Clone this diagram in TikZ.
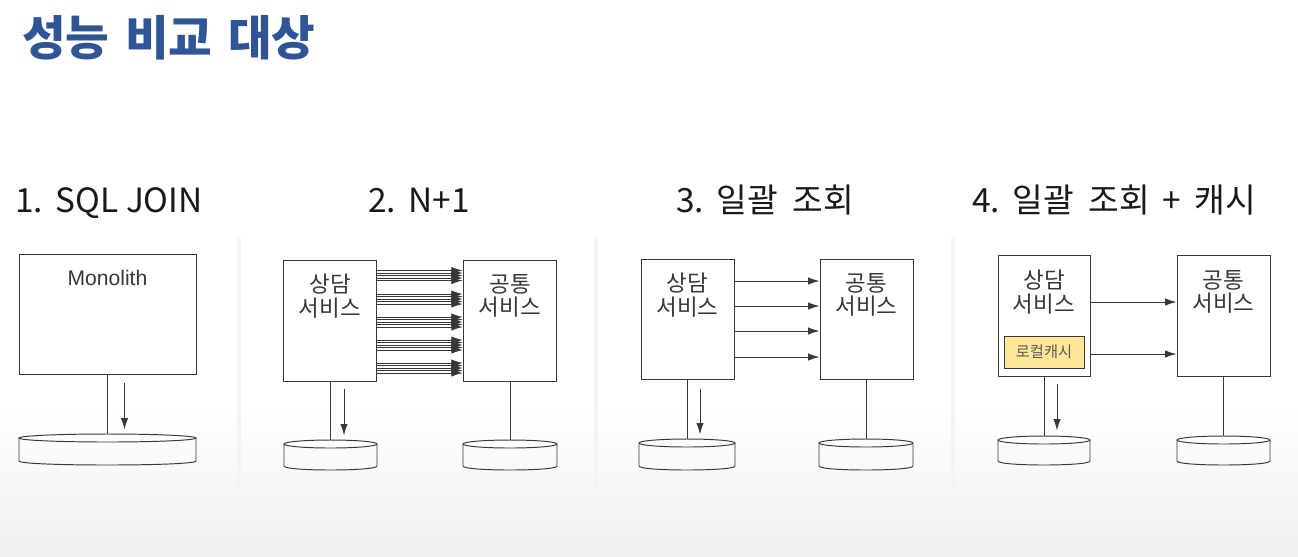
\documentclass[tikz,border=0pt]{standalone}
\usepackage{fontspec}
\setmainfont{Noto Sans CJK KR}
\newfontfamily\arialfont{Liberation Sans}
\usetikzlibrary{arrows.meta}
\usetikzlibrary{positioning}

\definecolor{titleblue}{HTML}{2F5597}
\definecolor{inkgray}{HTML}{383838}
\definecolor{cachefill}{HTML}{FFE699}

% disk: left, right, top, bottom (pixel units)
\newcommand{\dbdisk}[4]{%
  \draw[wire] (#1,#3+4) -- (#1,#4-4) .. controls (#1,#4+1.33) and (#2,#4+1.33) .. (#2,#4-4) -- (#2,#3+4);
  \draw[wire] ({(#1+#2)/2},#3+4) ellipse [x radius={(#2-#1)/2}, y radius=4];
}

\begin{document}
\begin{tikzpicture}[x=0.02cm, y=-0.02cm,
    wire/.style={draw=inkgray, line width=0.55pt},
    arr/.style={wire, -{Latex[length=6.5pt,width=4.2pt]}},
    box/.style={wire, minimum width=1.87cm, minimum height=2.42cm, inner sep=0pt},
    boxtext/.style={align=center, text=inkgray, font=\fontsize{12.8}{13.2}\selectfont},
    heading/.style={anchor=base west, inner sep=0pt, text=black!90, font=\fontsize{19}{22}\selectfont},
    sep/.style={draw=gray!9, line width=0.08cm}]
      \useasboundingbox (0,0) rectangle (1298,556);
      \fill[white] (0,0) rectangle (1298,556);
      \shade[top color=white, bottom color=gray!12] (0,405) rectangle (1298,556);

      \node [anchor=base west, inner sep=0pt, text=titleblue, font=\fontsize{27}{32}\selectfont\bfseries] (title) at (22,55) {성능\hspace{0.1em} 비교\hspace{0.1em} 대상};

      \node [heading] (h1) at (15,212) {1.\hspace{0.08em} SQL JOIN};
      \node [heading] (h2) at (368,212) {2.\hspace{0.08em} N+1};
      \node [heading] (h3) at (676,212) {3.\hspace{0.08em} 일괄\hspace{0.2em} 조회};
      \node [heading] (h4) at (972,212) {4.\hspace{0.08em} 일괄\hspace{0.2em} 조회\hspace{0.15em} +\hspace{0.2em} 캐시};

      \draw [sep] (239,237) -- (239,488);
      \draw [sep] (596,237) -- (596,488);
      \draw [sep] (953,237) -- (953,488);

      % 1. SQL JOIN
      \node [box, minimum width=3.54cm, minimum height=2.4cm] (mono) at (107.5,314) {};
      \node [anchor=base, text=inkgray, font=\arialfont\fontsize{12}{14}\selectfont] (monoT) at (107.5,285) {Monolith};
      \coordinate (db1) at (107.5,434);
      \dbdisk{19}{196}{434}{465}
      \draw [wire] (mono.south) -- (mono.south |- db1);
      \draw [arr] ([xshift=0.34cm,yshift=-0.18cm]mono.south) -- ++(0,46);

      % 2. N+1
      \node [box] (sa2) at (330,320.5) {};
      \node [box] (cs2) at (510,320.5) {};
      \node [boxtext] (sa2T) at (330,296) {상담\\서비스};
      \node [boxtext] (cs2T) at (510,296) {공통\\서비스};
      \foreach \g in {275.5,299,322,345,368}
        \foreach \d in {-5,-2.5,0,2.5,5}
          \draw [arr] (sa2.east |- 0,\g+\d) -- (cs2.west |- 0,\g+\d);
      \coordinate (db2a) at (330.5,440);
      \coordinate (db2b) at (510,440);
      \dbdisk{284}{377}{440}{470}
      \dbdisk{463}{557}{440}{470}
      \draw [wire] (sa2.south) -- (sa2.south |- db2a);
      \draw [wire] (cs2.south) -- (cs2.south |- db2b);
      \draw [arr] ([xshift=0.28cm,yshift=-0.16cm]sa2.south) -- ++(0,46);

      % 3. batch
      \node [box, minimum width=1.86cm, minimum height=2.4cm] (sa3) at (687.5,319) {};
      \node [box, minimum width=1.86cm, minimum height=2.4cm] (cs3) at (866.5,319) {};
      \node [boxtext] (sa3T) at (687.5,295) {상담\\서비스};
      \node [boxtext] (cs3T) at (866.5,295) {공통\\서비스};
      \foreach \y in {281,306,331,357}
        \draw [arr] (sa3.east |- 0,\y) -- (cs3.west |- 0,\y);
      \coordinate (db3a) at (687,439);
      \coordinate (db3b) at (866,439);
      \dbdisk{639}{735}{439}{470}
      \dbdisk{819}{913}{439}{470}
      \draw [wire] (sa3.south) -- (sa3.south |- db3a);
      \draw [wire] (cs3.south) -- (cs3.south |- db3b);
      \draw [arr] ([xshift=0.25cm,yshift=-0.2cm]sa3.south) -- ++(0,45);

      % 4. batch + cache
      \node [box, minimum width=1.84cm] (sa4) at (1044,315.5) {};
      \node [box, minimum width=1.86cm] (cs4) at (1223.5,315.5) {};
      \node [boxtext] (sa4T) at (1044,292) {상담\\서비스};
      \node [boxtext] (cs4T) at (1223.5,292) {공통\\서비스};
      \node [wire, fill=cachefill, minimum width=1.6cm, minimum height=0.64cm, inner sep=0pt,
             text=black!65, font=\fontsize{8.7}{10}\selectfont] (cache4) at (1044,352) {로컬캐시};
      \draw [arr] (sa4.east |- 0,302) -- (cs4.west |- 0,302);
      \draw [arr] (sa4.east |- 0,354) -- (cs4.west |- 0,354);
      \coordinate (db4a) at (1044,436);
      \coordinate (db4b) at (1223.5,436);
      \dbdisk{998}{1090}{436}{465}
      \dbdisk{1177}{1270}{436}{465}
      \draw [wire] (sa4.south) -- (sa4.south |- db4a);
      \draw [wire] (cs4.south) -- (cs4.south |- db4b);
      \draw [arr] ([xshift=0.26cm,yshift=-0.16cm]sa4.south) -- ++(0,46);
\end{tikzpicture}
\end{document}
